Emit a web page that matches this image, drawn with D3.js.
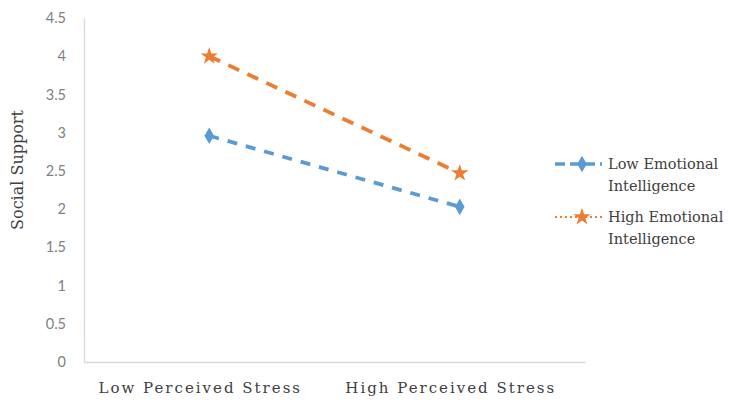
<!DOCTYPE html>
<html><head><meta charset="utf-8">
<script src="https://cdn.jsdelivr.net/npm/d3@7"></script>
<style>body{margin:0;background:#fff}</style>
</head><body><svg id="c" width="732" height="409"></svg>
<script>
const categories = ["Low Perceived Stress", "High Perceived Stress"];
const seriesNames = ["Low Emotional Intelligence", "High Emotional Intelligence"];
const lowEI = [2.96, 2.03];
const highEI = [4.0, 2.47];
const yTicks = [0, 0.5, 1, 1.5, 2, 2.5, 3, 3.5, 4, 4.5];

const svg = d3.select("#c");
const x = d3.scaleBand().domain(categories).range([84, 585]);
const y = d3.scaleLinear().domain([0, 4.5]).range([362, 18]);
const blue = "#5b9bd5", orange = "#ed7d31";

// y axis
const ya = svg.append("g").attr("transform","translate(84,0)")
  .call(d3.axisLeft(y).tickValues(yTicks).tickSize(0).tickPadding(18).tickFormat(d => String(d)));
ya.select(".domain").attr("stroke","#d9d9d9").attr("stroke-width",1.3);
ya.selectAll("text").attr("font-family","Lato, 'Open Sans', sans-serif").attr("font-size",14.5).attr("fill","#7f7f7f");

// x axis
const xa = svg.append("g").attr("transform","translate(0,362)")
  .call(d3.axisBottom(x).tickSize(0).tickPadding(20));
xa.select(".domain").attr("stroke","#d9d9d9").attr("stroke-width",1.3);
xa.selectAll("text").attr("font-family","'DejaVu Serif', serif").attr("font-size",15)
  .attr("letter-spacing","2px").attr("fill","#404040").attr("dx","-9");

// y title
svg.append("text").attr("transform","translate(23,170) rotate(-90)")
  .attr("text-anchor","middle").attr("font-family","'DejaVu Serif', serif").attr("font-size",16)
  .attr("fill","#404040").text("Social Support");

const series = [
  {name: seriesNames[0], vals: lowEI, color: blue, dash: "10,9", sym: d3.symbolDiamond, size: 80},
  {name: seriesNames[1], vals: highEI, color: orange, dash: "12,9", sym: d3.symbolStar, size: 95}
];
const line = d3.line().x((d,i)=>x(categories[i])+x.bandwidth()/2).y(d=>y(d));
series.forEach(s => {
  svg.append("path").datum(s.vals).attr("d", line).attr("fill","none")
    .attr("stroke", s.color).attr("stroke-width",3.8).attr("stroke-dasharray", s.dash);
  svg.selectAll(null).data(s.vals).enter().append("path")
    .attr("transform",(d,i)=>`translate(${x(categories[i])+x.bandwidth()/2},${y(d)})`)
    .attr("d", d3.symbol().type(s.sym).size(s.size)).attr("fill", s.color);
});

// legend
const leg = [
  {s: series[0], y: 164, dash: "10,5", lines: ["Low Emotional","Intelligence"]},
  {s: series[1], y: 217, dash: "2,3", lines: ["High Emotional","Intelligence"]}
];
leg.forEach(l => {
  svg.append("line").attr("x1",555).attr("x2",602).attr("y1",l.y).attr("y2",l.y)
    .attr("stroke",l.s.color).attr("stroke-width", l.s === series[0] ? 3.5 : 2).attr("stroke-dasharray",l.dash);
  svg.append("path").attr("transform",`translate(582,${l.y})`)
    .attr("d", d3.symbol().type(l.s.sym).size(l.s.size)).attr("fill",l.s.color);
  const t = svg.append("text").attr("x",608).attr("y",l.y+5)
    .attr("font-family","'DejaVu Serif', serif").attr("font-size",14.5).attr("fill","#404040");
  l.lines.forEach((tx,i)=>t.append("tspan").attr("x",608).attr("dy", i===0?0:22).text(tx));
});
</script></body></html>
